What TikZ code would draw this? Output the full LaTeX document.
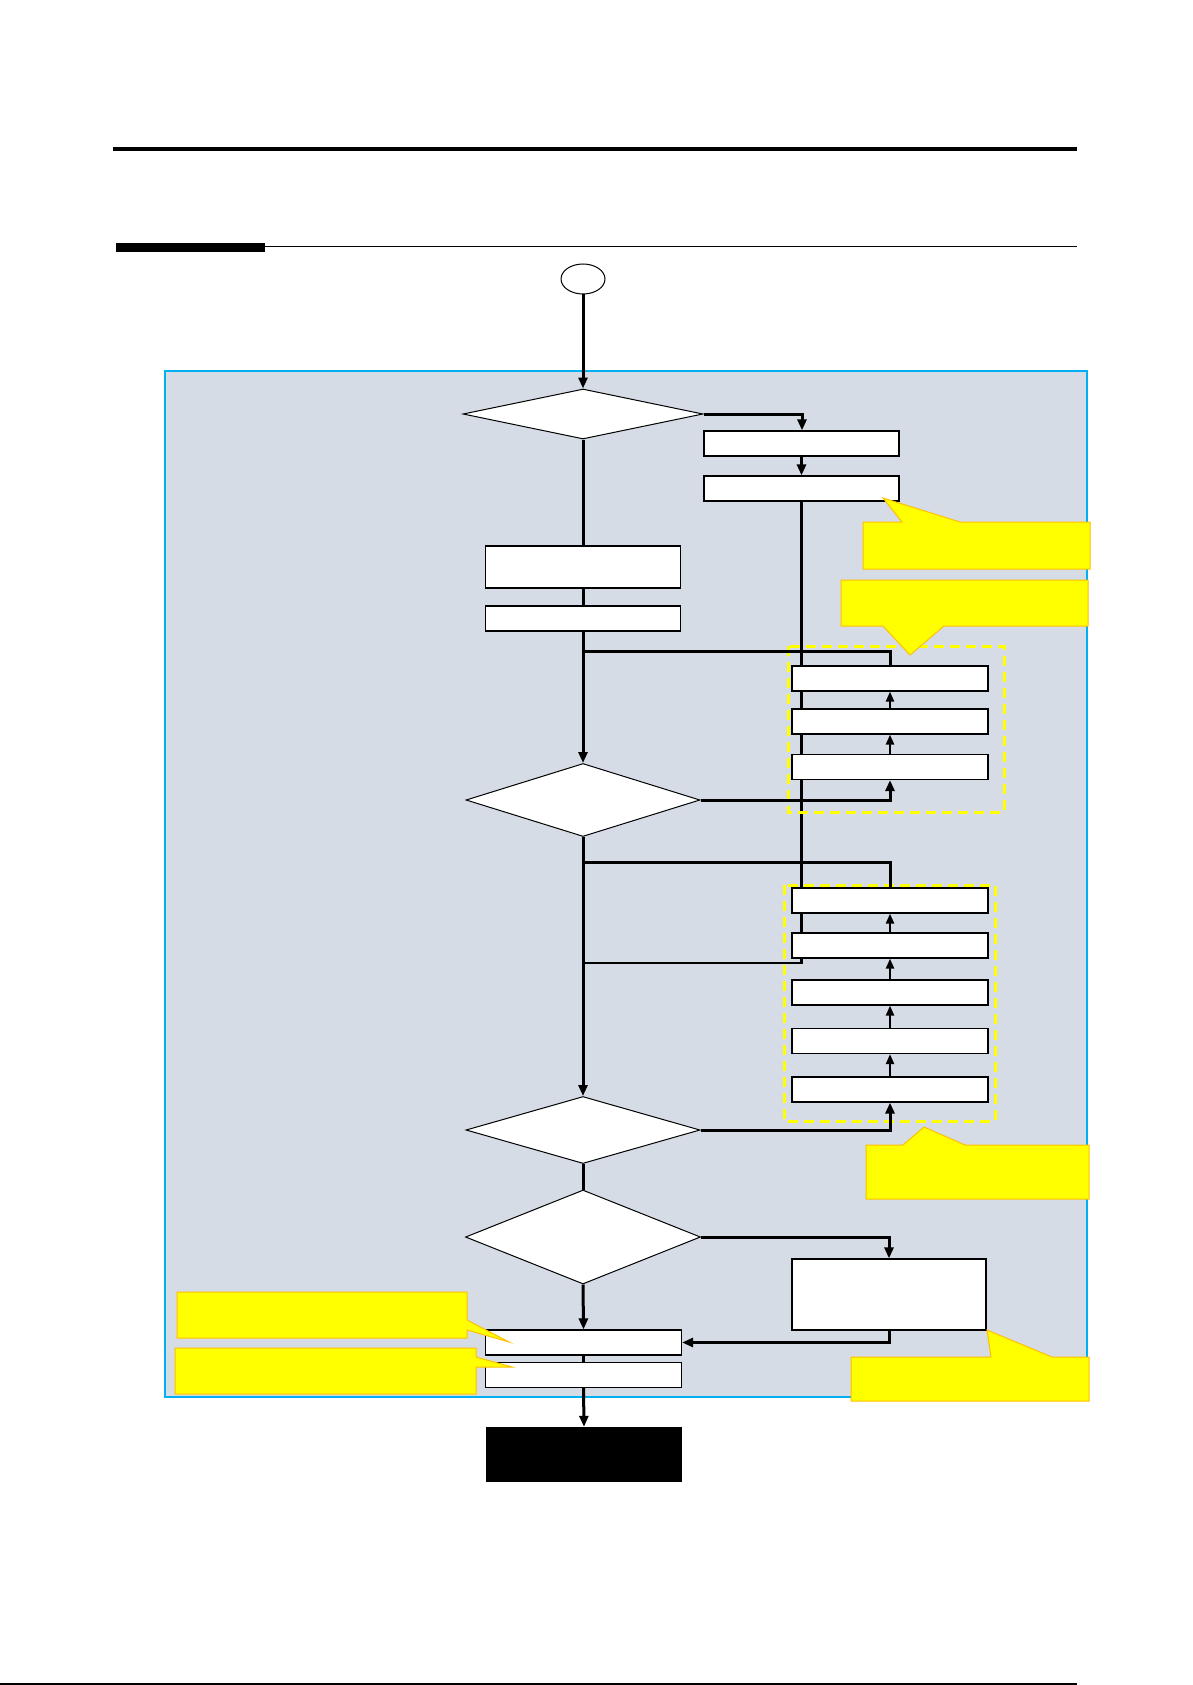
\documentclass[tikz,border=0pt]{standalone}
\usepackage{tikz}
\usetikzlibrary{positioning, arrows.meta, shapes.geometric}
\definecolor{panelfill}{HTML}{D6DCE5}
\definecolor{panelline}{HTML}{00B0F0}
\definecolor{notefill}{HTML}{FFFF00}
\definecolor{noteline}{HTML}{FFC000}
\tikzset{
  box/.style={draw, fill=white, line width=1.2pt, minimum width=195pt, minimum height=25pt, inner sep=0pt},
  decision/.style={draw, diamond, fill=white, line width=1pt, inner sep=0pt},
  flow/.style={line width=3pt, -{Triangle[length=11pt,width=9pt]}},
  flowline/.style={line width=3pt},
  upflow/.style={line width=2.2pt, -{Triangle[length=10pt,width=8pt]}},
  sideline/.style={line width=2.2pt},
  group/.style={draw=notefill, line width=3pt, dash pattern=on 10pt off 6pt},
  note/.style={fill=notefill, draw=noteline, line width=1pt}
}

\begin{document}
\begin{tikzpicture}[x=1pt, y=-1pt]
    \useasboundingbox (0,0) rectangle (1192,1685);
    % page rules
    \draw[line width=4pt] (113,149) -- (1077,149);
    \draw[line width=1pt] (116,247) -- (1077,247);
    \fill (116,243) rectangle (265,252);
    \draw[line width=1.5pt] (0,1684) -- (1077,1684);
    % panel
    \draw[fill=panelfill, draw=panelline, line width=1.5pt] (165,371) rectangle (1087,1397);
    % start and first decision
    \node[draw, ellipse, fill=white, line width=1pt, minimum width=44pt, minimum height=30pt] (start) at (583,279) {};
    \node[decision, minimum width=240pt, minimum height=50pt] (d1) at (583,414) {};
    \node[box] (b1) at (801.5,443.5) {};
    \node[box] (b2) at (801.5,488.5) {};
    \coordinate (j3) at (583,963);
    \draw[sideline] (b2.south) |- (j3);
    % left column
    \node[box, minimum height=42pt] (b3) at (583,567) {};
    \node[box] (b4) at (583,618.5) {};
    % dashed groups
    \draw[group] (788,646) rectangle (1004,812);
    \draw[group] (784,885) rectangle (995,1121);
    % first right group
    \node[box, minimum width=196pt] (b5) at (890,678.5) {};
    \node[box, minimum width=196pt] (b6) at (890,721.5) {};
    \node[box, minimum width=196pt] (b7) at (890,767) {};
    % second right group
    \node[box, minimum width=196pt] (b8) at (890,900.5) {};
    \node[box, minimum width=196pt] (b9) at (890,945.5) {};
    \node[box, minimum width=196pt] (b10) at (890,992.5) {};
    \node[box, minimum width=196pt] (b11) at (890,1041) {};
    \node[box, minimum width=196pt] (b12) at (890,1089.5) {};
    % lower decisions
    \node[decision, minimum width=234pt, minimum height=73pt] (d2) at (583,800) {};
    \node[decision, minimum width=234pt, minimum height=67pt] (d3) at (583,1130) {};
    \node[decision, minimum width=235pt, minimum height=94pt] (d4) at (583,1237) {};
    \node[box, minimum width=194pt, minimum height=71pt] (b13) at (889,1294.5) {};
    \node[box, minimum width=196pt] (b14) at (583.5,1342.5) {};
    \node[box, minimum width=196pt] (b15) at (583.5,1375) {};
    \node[fill=black, minimum width=196pt, minimum height=55pt, inner sep=0pt] (finish) at (584,1454.5) {};
    % main flow
    \coordinate (j1) at (583,651);
    \coordinate (j2) at (583,862);
    \draw[flow] (start) -- (d1);
    \draw[flow] (d1.east) -| (b1.north -| 802,0);
    \draw[flow] (b1) -- (b2);
    \draw[flowline] (d1.south) -- (b3.north);
    \draw[flowline] (b3) -- (b4);
    \draw[flow] (b4.south) -- (d2.north);
    \draw[flowline] (b5.north) |- (j1);
    \draw[flow] (d2.east) -| (b7.south);
    \draw[upflow] (b7) -- (b6);
    \draw[upflow] (b6) -- (b5);
    \draw[flow] (d2.south) -- (d3.north);
    \draw[flowline] (b8.north) |- (j2);
    \draw[flow] (d3.east) -| (b12.south);
    \draw[upflow] (b12) -- (b11);
    \draw[upflow] (b11) -- (b10);
    \draw[upflow] (b10) -- (b9);
    \draw[upflow] (b9) -- (b8);
    \draw[flowline] (d3.south) -- (d4.north);
    \draw[flow] (d4.east) -| (b13.north);
    \draw[flow] (d4.south) -- (b14.north);
    \draw[flow] (b13.south) |- (b14.east);
    \draw[flowline] (b14) -- (b15);
    \draw[flow] (b15.south) -- (finish.north);
    % callouts
    \draw[note] (863,522) -- (902,522) -- (883,498) -- (960,522) -- (1090,522) -- (1090,569) -- (863,569) -- cycle;
    \draw[note] (841,580) -- (1088,580) -- (1088,626) -- (944,626) -- (910,655) -- (883,626) -- (841,626) -- cycle;
    \draw[note] (866,1145) -- (903,1145) -- (924,1127) -- (965,1145) -- (1089,1145) -- (1089,1199) -- (866,1199) -- cycle;
    \draw[note] (851,1357) -- (991,1357) -- (987,1330) -- (1052,1357) -- (1089,1357) -- (1089,1401) -- (851,1401) -- cycle;
    \draw[note] (177,1292) -- (467,1292) -- (467,1320) -- (509,1342) -- (467,1330) -- (467,1338) -- (177,1338) -- cycle;
    \draw[note] (175,1348) -- (476,1348) -- (476,1357) -- (512,1367) -- (476,1367) -- (476,1394) -- (175,1394) -- cycle;
\end{tikzpicture}
\end{document}
